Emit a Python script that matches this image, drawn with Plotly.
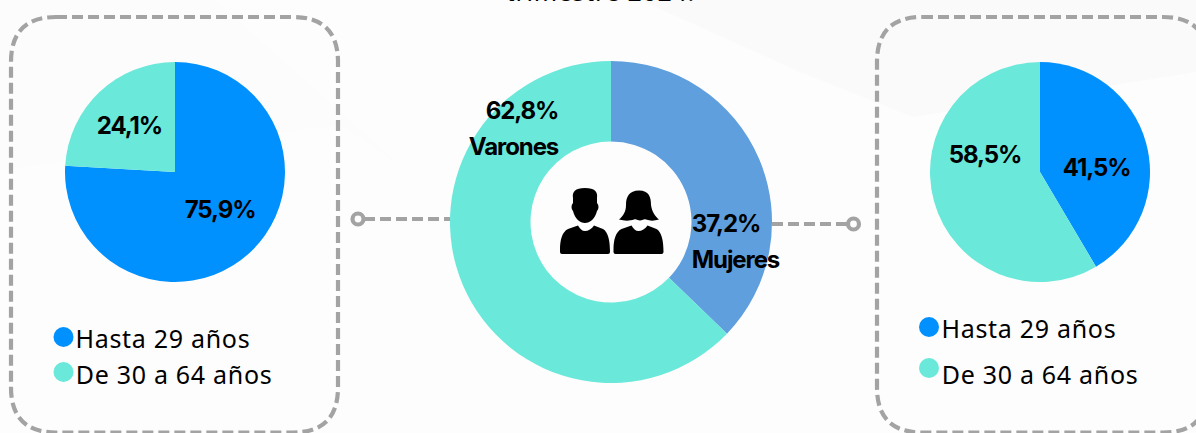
import plotly.graph_objects as go

# ---- data ----
age_labels = ["Hasta 29 años", "De 30 a 64 años"]
women_age = [41.5, 58.5]
men_age = [75.9, 24.1]
sex_labels = ["Mujeres", "Varones"]
sex_values = [37.2, 62.8]
men_age_text = ["75,9%", "24,1%"]
women_age_text = ["41,5%", "58,5%"]
sex_text = ["37,2%", "62,8%"]
title_tail = "trimestre 2024."

BLUE, TEAL, STEEL = "#0091ff", "#6ae8da", "#5f9fdd"
GREY = "#a3a3a3"
W, H = 1196, 433
BOLD = "Inter"
REG = "Noto Sans"


def domain(cx, cy, r):
    return dict(x=[(cx - r) / W, (cx + r) / W], y=[1 - (cy + r) / H, 1 - (cy - r) / H])


def rbox(x0, y0, x1, y1, r):
    return (f"M{x0+r},{y0} L{x1-r},{y0} Q{x1},{y0} {x1},{y0+r} L{x1},{y1-r} Q{x1},{y1} {x1-r},{y1} "
            f"L{x0+r},{y1} Q{x0},{y1} {x0},{y1-r} L{x0},{y0+r} Q{x0},{y0} {x0+r},{y0} Z")


fig = go.Figure()
for vals, labs, cols, cx, cy, r, hole, name in [
    (men_age, age_labels, [BLUE, TEAL], 175, 172, 110, 0, "Varones"),
    (sex_values, sex_labels, [STEEL, TEAL], 611, 222, 161, 0.5, "Total"),
    (women_age, age_labels, [BLUE, TEAL], 1040, 172, 110, 0, "Mujeres"),
]:
    fig.add_trace(go.Pie(values=vals, labels=labs, name=name, sort=False, direction="clockwise", rotation=0,
                         hole=hole, textinfo="none", marker=dict(colors=cols, line=dict(width=0)),
                         domain=domain(cx, cy, r), showlegend=False, hoverinfo="label+percent"))

# legend dots
fig.add_trace(go.Scatter(x=[63.5, 63.5, 929, 929], y=[337, 372, 327, 368], mode="markers",
                         marker=dict(size=20, color=[BLUE, TEAL, BLUE, TEAL], line=dict(width=0)),
                         showlegend=False, hoverinfo="skip", cliponaxis=False))

line = dict(color=GREY, width=4.2, dash="11px,5px")
shapes = [
    dict(type="path", path="M640,0 L800,72 L913,117 L1196,72 L1196,0 Z", fillcolor="#fafafa", line_width=0, layer="below"),
    dict(type="path", path="M0,0 L215,0 L400,165 L340,125 L0,170 Z", fillcolor="#fcfcfc", line_width=0, layer="below"),
    dict(type="path", path=rbox(11, 17, 338, 432.5, 45), line=line, layer="below"),
    dict(type="path", path=rbox(877, 17, 1208, 432.5, 45), line=line, layer="below"),
    dict(type="line", x0=364, x1=450, y0=219, y1=219, line=line, layer="below"),
    dict(type="line", x0=772, x1=848, y0=224, y1=224, line=line, layer="below"),
    dict(type="circle", x0=352.5, x1=363.5, y0=213.5, y1=224.5, line=dict(color=GREY, width=4.2), fillcolor="#fdfdfd", layer="above"),
    dict(type="circle", x0=848, x1=859, y0=218.5, y1=229.5, line=dict(color=GREY, width=4.2), fillcolor="#fdfdfd", layer="above"),
]

# people icon
BODY = ("M{a},250 C{a},240 {b},232 {c},229 L{d},225.5 C{e},229 {f},231 {g},231 C{h},231 {i},229 {j},225.5 "
        "L{k},229 C{l},232 {m},240 {m},252 Q{m},254 {n},254 L{o},254 Q{a},254 {a},252 Z")


def body(x):
    return BODY.format(a=x, b=x+2, c=x+8, d=x+18, e=x+20, f=x+22, g=x+25, h=x+28, i=x+32, j=x+34,
                       k=x+43, l=x+48, m=x+50, n=x+48, o=x+2)


icon = [
    "M585,188 C575,188 572,192 573,198 L573,203 C571,205 571,209 573,211 C575,219 580,223 585,223 "
    "C590,223 595,219 597,211 C599,209 599,205 597,203 L597,198 C598,192 595,188 585,188 Z",
    body(560),
    "M639,190.5 C629,190.5 626,197 626,205 C626,212 623,216 619,219.5 C624,221 630,221 634,219.5 "
    "C636,218.5 638,220.5 640,220.5 C642,220.5 644,218.5 646,219.5 C650,221 654,221 659,219.5 "
    "C655,216 652,212 651,205 C651,197 649,190.5 639,190.5 Z",
    body(613.5),
]
for p in icon:
    shapes.append(dict(type="path", path=p, fillcolor="#000000", line_width=0, layer="above"))


def note(text, x, y, size, family=BOLD, bold=True, xanchor="center", yanchor="middle"):
    return dict(text=text, x=x, y=y, xref="x", yref="y", xanchor=xanchor, yanchor=yanchor, showarrow=False,
                font=dict(family=family, size=size, color="#000000", weight=700 if bold else 400),
                borderpad=0, borderwidth=0)


LS, LG = 24, 25
annotations = [
    note(men_age_text[1], 129, 125, LS), note(men_age_text[0], 220, 209, LS),
    note(sex_text[1], 561, 110, LS, xanchor="right"), note(sex_labels[1], 562, 146, LS, xanchor="right"),
    note(sex_text[0], 689, 223, LS, xanchor="left"), note(sex_labels[0], 688, 259, LS, xanchor="left"),
    note(women_age_text[1], 985, 154, LS), note(women_age_text[0], 1096, 167, LS),
    note(age_labels[0], 80, 338, LG, REG, False, "left"), note(age_labels[1], 81, 374, LG, REG, False, "left"),
    note(age_labels[0], 946, 328, LG, REG, False, "left"), note(age_labels[1], 947, 374, LG, REG, False, "left"),
    note(title_tail, 600, 7.6, 25, REG, False, yanchor="bottom"),
]

fig.update_layout(
    width=W, height=H, margin=dict(l=0, r=0, t=0, b=0), paper_bgcolor="#fdfdfd", plot_bgcolor="rgba(0,0,0,0)",
    xaxis=dict(range=[0, W], visible=False, fixedrange=True),
    yaxis=dict(range=[H, 0], visible=False, fixedrange=True),
    shapes=shapes, annotations=annotations, showlegend=False,
)
post = """
document.documentElement.style.margin='0';document.body.style.margin='0';document.body.style.background='#fdfdfd';
document.querySelectorAll('.annotation-text').forEach(function(t){
  var b = String(t.style.fontWeight)==='700';
  t.style.letterSpacing = b ? '-1.1px' : '0.7px';
});
"""
fig.write_html("out.html", config=dict(displayModeBar=False, responsive=False), post_script=post)
